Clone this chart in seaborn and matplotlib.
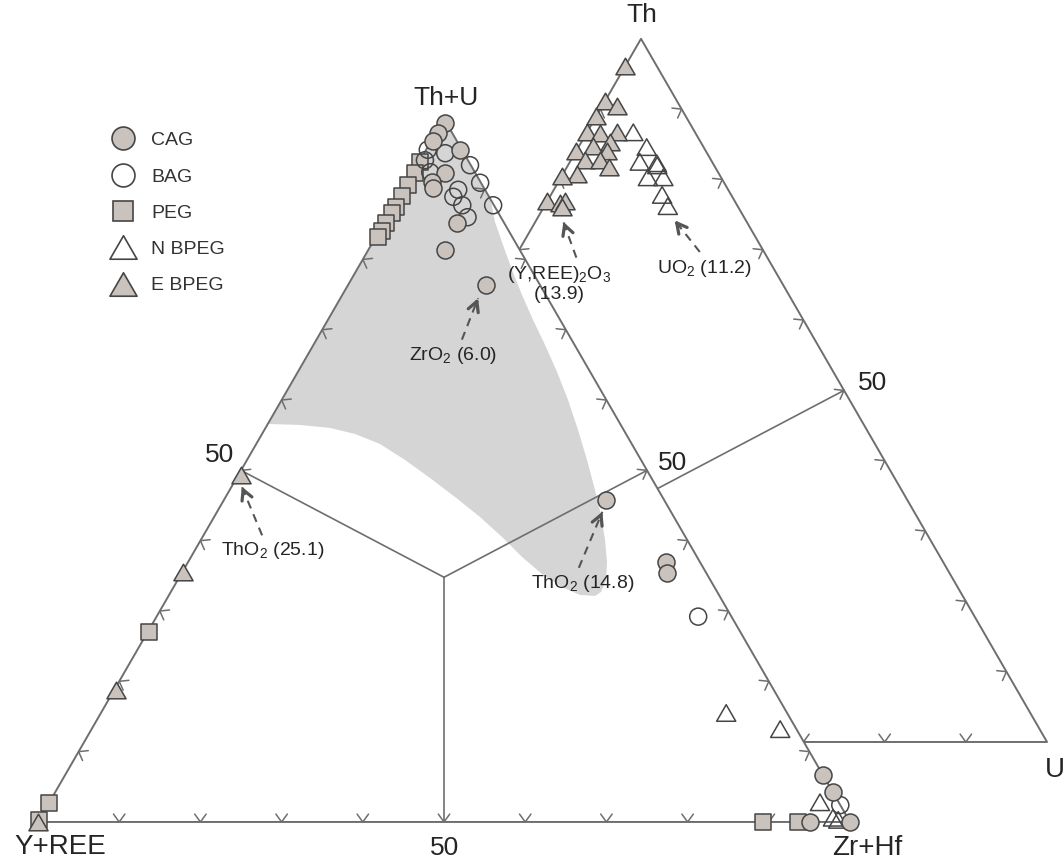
import numpy as np
import matplotlib
matplotlib.use("Agg")
import matplotlib.pyplot as plt
import seaborn as sns
from matplotlib.lines import Line2D
from matplotlib.path import Path
from matplotlib.patches import Polygon

# ---- main triangle data: Th+U %, Zr+Hf % (Y+REE is the rest) ----
cag_thu = [99.4, 98.0, 96.8, 95.6, 92.3, 91.0, 90.2, 85.2, 81.3, 76.4, 45.8, 37.0, 35.4, 6.7, 4.3, 0.0, 0.0]
cag_zrhf = [0.4, 0.3, 0.2, 4.2, 4.0, 3.0, 3.6, 9.0, 9.5, 17.0, 47.1, 58.8, 59.8, 93.3, 95.7, 95.1, 100.0]
bag_thu = [95.6, 94.1, 95.1, 93.4, 92.4, 90.9, 89.9, 88.9, 87.7, 86.0, 87.7, 29.2, 2.4]
bag_zrhf = [0.2, 0.6, 2.6, 6.5, 2.1, 9.0, 6.8, 6.7, 8.4, 9.9, 12.2, 66.7, 97.6]
peg_thu = [93.9, 92.3, 90.6, 89.0, 87.5, 86.6, 85.2, 84.0, 83.2, 27.0, 2.7, 0.3, 0.0, 0.0]
peg_zrhf = [0.1, 0.3, 0.3, 0.3, 0.3, 0.3, 0.3, 0.4, 0.3, 0.2, 0.0, 0.0, 89.3, 93.6]
nbpeg_thu = [15.5, 13.2, 2.8, 0.6, 0.3]
nbpeg_zrhf = [77.0, 84.8, 94.9, 97.6, 98.4]
ebpeg_thu = [49.3, 35.6, 18.8, 0.0]
ebpeg_zrhf = [0.3, 0.0, 0.2, 0.0]

# ---- second triangle data: Th %, U % ----
ebpeg2_th = [96.1, 91.2, 90.4, 89.0, 86.7, 86.6, 86.7, 85.3, 84.8, 84.0, 84.0, 82.8, 82.8, 81.8,
             80.8, 80.5, 76.9, 76.7, 76.9, 76.1]
ebpeg2_u = [0.0, 0.0, 1.8, 0.0, 0.0, 1.7, 3.7, 3.5, 1.7, 0.0, 3.8, 1.7, 3.6, 5.2,
            1.7, 0.0, 0.0, 1.7, 2.2, 2.2]
nbpeg2_th = [86.7, 84.6, 82.3, 82.5, 80.3, 80.3, 77.8, 76.2, 82.0]
nbpeg2_u = [5.7, 8.4, 10.8, 8.6, 10.7, 12.6, 13.7, 15.2, 11.0]

# ---- grey field outline (Th+U %, Zr+Hf %) ----
field_thu = [56.6, 100.0, 88.5, 85.32, 82.05, 78.50, 74.94, 71.39, 67.83, 63.99, 60.01, 55.75,
             51.48, 47.21, 43.66, 40.10, 36.97, 34.41, 32.71, 32.14, 32.28, 33.42, 35.27, 37.68,
             40.53, 43.40, 46.22, 48.92, 51.48, 53.75, 55.18, 56.03, 56.46]
field_zrhf = [0.0, 0.0, 11.5, 13.62, 16.24, 19.12, 22.14, 25.27, 28.53, 31.93, 35.27, 38.63,
              41.87, 44.99, 47.50, 49.78, 51.59, 52.75, 52.98, 52.53, 50.61, 47.82, 44.43, 40.77,
              36.88, 32.70, 28.24, 23.82, 19.46, 15.24, 11.45, 7.95, 4.04]

legend_labels = ["CAG", "BAG", "PEG", "N BPEG", "E BPEG"]

LINE = "#6e6e6e"
EDGE = "#454545"
FILL = "#c9c2bd"
FIELD = "#d5d5d5"
TXT = "#252525"
ARROW = "#555555"

S3 = np.sqrt(3) / 2
OFF2 = (24.26, 9.85)   # second triangle offset
TRI = Path([(-1, -0.866), (1, -0.866), (0, 0.866), (-1, -0.866)], closed=True)


def tern(top, right, x0=0.0, y0=0.0):
    top = np.asarray(top, float)
    right = np.asarray(right, float)
    return x0 + right + top / 2, y0 + top * S3


def chevron(ax, x, y, ang, z, size=1.2, spread=36):
    a1 = np.deg2rad(ang + 180 - spread)
    a2 = np.deg2rad(ang + 180 + spread)
    ax.plot([x + size * np.cos(a1), x, x + size * np.cos(a2)],
            [y + size * np.sin(a1), y, y + size * np.sin(a2)],
            color=LINE, lw=1.1, zorder=z, solid_joinstyle="miter")


def draw_frame(ax, x0, y0, junction, z):
    A = np.array([x0, y0])
    B = np.array([x0 + 100, y0])
    C = np.array([x0 + 50, y0 + 100 * S3])
    ax.plot([A[0], B[0], C[0], A[0]], [A[1], B[1], C[1], A[1]], color=LINE, lw=1.4, zorder=z)
    for k in range(1, 10):
        p = A + (B - A) * k / 10
        chevron(ax, p[0], p[1], 270, z)
        p = B + (C - B) * k / 10
        chevron(ax, p[0], p[1], 30, z)
        p = A + (C - A) * k / 10
        chevron(ax, p[0], p[1], 150, z)
    J = np.array(tern(*junction, x0, y0))
    for m in [(A + B) / 2, (B + C) / 2, (A + C) / 2]:
        ax.plot([J[0], m[0]], [J[1], m[1]], color=LINE, lw=1.2, zorder=z)


sns.set_theme(style="white")
plt.rcParams["font.family"] = ["Liberation Sans", "DejaVu Sans"]
plt.rcParams["mathtext.fontset"] = "custom"
plt.rcParams["mathtext.rm"] = "Liberation Sans"
plt.rcParams["mathtext.default"] = "regular"

fig = plt.figure(figsize=(10.64, 8.65), dpi=100)
ax = fig.add_axes([0, 0, 1, 1])
ax.set_xlim(-4.68, 126.35)
ax.set_ylim(-5.30, 101.23)
ax.axis("off")

# second (Th-U) triangle, partly hidden behind the main one
draw_frame(ax, OFF2[0], OFF2[1], (34.8, 32.6), 1)
ax.add_patch(Polygon([(0, 0), (100, 0), (50, 100 * S3)], closed=True, fc="white", ec="none", zorder=2))

fx, fy = tern(field_thu, field_zrhf)
ax.add_patch(Polygon(np.column_stack([fx, fy]), closed=True, fc=FIELD, ec="none", zorder=3))
draw_frame(ax, 0, 0, (34.8, 32.6), 4)


def scatter_group(top, right, marker, s, face, z, off=(0.0, 0.0)):
    x, y = tern(top, right, *off)
    sns.scatterplot(x=x, y=y, marker=marker, s=s, color=FILL, edgecolor=EDGE,
                    linewidth=1.1, ax=ax, zorder=z, legend=False)
    coll = ax.collections[-1]
    coll.set_facecolor(face)
    coll.set_edgecolor(EDGE)
    coll.set_zorder(z)


scatter_group(peg_thu, peg_zrhf, "s", 118, FILL, 5)
scatter_group(bag_thu, bag_zrhf, "o", 150, "none", 6)
scatter_group(nbpeg_thu, nbpeg_zrhf, TRI, 190, "none", 6)
scatter_group(cag_thu, cag_zrhf, "o", 150, FILL, 7)
scatter_group(ebpeg_thu, ebpeg_zrhf, TRI, 190, FILL, 8)
scatter_group(nbpeg2_th, nbpeg2_u, TRI, 190, "none", 6, OFF2)
scatter_group(ebpeg2_th, ebpeg2_u, TRI, 190, FILL, 7, OFF2)

# vertex and 50 labels
lab = dict(color=TXT, ha="center", va="center", zorder=10)
ax.text(50.2, 89.2, "Th+U", fontsize=19, **lab)
ax.text(2.7, -3.1, "Y+REE", fontsize=20, **lab)
ax.text(102.1, -3.2, "Zr+Hf", fontsize=20, **lab)
ax.text(74.3, 99.4, "Th", fontsize=19, **lab)
ax.text(125.2, 6.4, "U", fontsize=20, **lab)
ax.text(50.1, -3.2, "50", fontsize=19, **lab)
ax.text(22.4, 45.2, "50", fontsize=19, **lab)
ax.text(78.2, 44.2, "50", fontsize=19, **lab)
ax.text(102.8, 54.1, "50", fontsize=19, **lab)

# annotations: text, tail, tip
notes = [
    (r"ZrO$_2$ (6.0)", (51.1, 57.5), (52.2, 59.4), (54.2, 64.5)),
    (r"ThO$_2$ (25.1)", (28.9, 33.4), (27.6, 35.3), (25.1, 41.3)),
    (r"ThO$_2$ (14.8)", (67.1, 29.4), (66.6, 31.3), (69.5, 38.2)),
    (r"UO$_2$ (11.2)", (82.1, 68.2), (81.5, 70.2), (78.4, 74.1)),
    ("(Y,REE)$_2$O$_3$\n(13.9)", (64.2, 66.3), (66.3, 69.5), (64.7, 73.9)),
]
for txt, tpos, tail, tip in notes:
    ax.text(*tpos, txt, fontsize=14, color=TXT, ha="center", va="center", zorder=10,
            linespacing=1.1)
    ax.plot([tail[0], tip[0]], [tail[1], tip[1]], color=ARROW, lw=1.5, ls=(0, (4, 3)), zorder=9)
    d = np.array(tip) - np.array(tail)
    d = d / np.hypot(*d)
    ax.annotate("", xy=tip, xytext=(tip[0] - 0.6 * d[0], tip[1] - 0.6 * d[1]),
                arrowprops=dict(arrowstyle="->,head_length=0.6,head_width=0.32",
                                color=ARROW, lw=2.3, shrinkA=0, shrinkB=0), zorder=9)

# legend
handles = [
    Line2D([], [], ls="", marker="o", ms=16.5, mfc=FILL, mec=EDGE, mew=1.2),
    Line2D([], [], ls="", marker="o", ms=16.5, mfc="white", mec=EDGE, mew=1.2),
    Line2D([], [], ls="", marker="s", ms=14, mfc=FILL, mec=EDGE, mew=1.2),
    Line2D([], [], ls="", marker=TRI, ms=19.5, mfc="white", mec=EDGE, mew=1.2),
    Line2D([], [], ls="", marker=TRI, ms=19.5, mfc=FILL, mec=EDGE, mew=1.2),
]
leg = ax.legend(handles, legend_labels, loc="upper left", bbox_to_anchor=(0.1028, 0.8478),
                frameon=False, fontsize=14, handlelength=1.4, handletextpad=0.74,
                labelspacing=0.96, borderpad=0, borderaxespad=0)
for t in leg.get_texts():
    t.set_color("#333333")

fig.savefig("out.png", dpi=100)
